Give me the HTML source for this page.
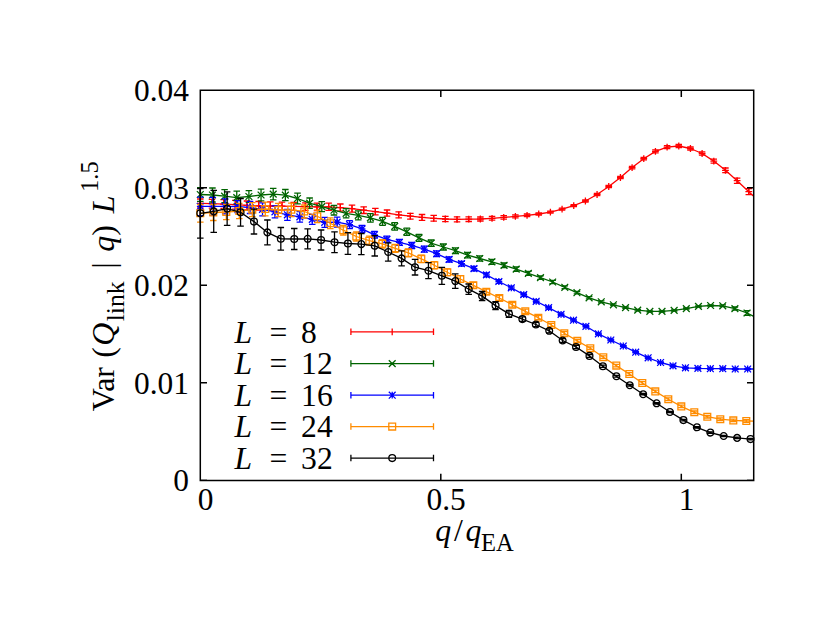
<!DOCTYPE html>
<html lang="en"><head><meta charset="utf-8"><title>Var(Q_link | q) L^1.5 versus q/q_EA</title>
<style>
html,body{margin:0;padding:0;background:#fff;}
body{width:830px;height:642px;overflow:hidden;font-family:"Liberation Serif",serif;}
svg{display:block}
.t text{font-family:"Liberation Serif",serif;fill:#000;}
</style></head>
<body>
<svg width="830" height="642" viewBox="0 0 830 642" role="img" aria-label="Plot of Var(Q_link | q) L^1.5 against q/q_EA for L = 8, 12, 16, 24, 32">
<rect width="830" height="642" fill="#fff"/>
<g class="plot">
<g stroke="#ff0000" fill="none" stroke-width="1.3"><path d="M200.3 203.4L211.97 203.7L223.64 204.1L235.31 204.7L246.98 205.4L258.65 205.8L270.32 206L281.99 206.2L293.66 206.4L305.33 206.6L317 206.8L328.67 206.8L340.34 207.6L352.01 208.7L363.68 210.2L375.35 211.6L387.02 213.1L398.69 214.8L410.36 216.2L422.03 217.4L433.7 218.3L445.37 219L457.04 219.3L468.71 219.2L480.38 219L492.05 218.3L503.72 217.4L515.39 216.4L527.06 215.3L538.73 214L550.4 212.2L562.07 209.2L573.74 205.7L585.41 201L597.08 194.5L608.75 186.5L620.42 177.5L632.09 167.6L643.76 158.7L655.43 151.4L667.1 147.2L678.77 146L690.44 148.5L702.11 153.5L713.78 161.1L725.45 170.3L737.12 180.7L748.79 191.7L753.7 196.3" stroke-linejoin="round"/><path d="M200.3 199V207.8M197.05 199H203.55M197.05 207.8H203.55M211.97 199.3V208.1M208.72 199.3H215.22M208.72 208.1H215.22M223.64 199.7V208.5M220.39 199.7H226.89M220.39 208.5H226.89M235.31 200.3V209.1M232.06 200.3H238.56M232.06 209.1H238.56M246.98 201V209.8M243.73 201H250.23M243.73 209.8H250.23M258.65 201.5V210.1M255.4 201.5H261.9M255.4 210.1H261.9M270.32 201.8V210.2M267.07 201.8H273.57M267.07 210.2H273.57M281.99 202.2V210.2M278.74 202.2H285.24M278.74 210.2H285.24M293.66 202.5V210.3M290.41 202.5H296.91M290.41 210.3H296.91M305.33 202.8V210.4M302.08 202.8H308.58M302.08 210.4H308.58M317 203.1V210.5M313.75 203.1H320.25M313.75 210.5H320.25M328.67 203.2V210.4M325.42 203.2H331.92M325.42 210.4H331.92M340.34 204V211.2M337.09 204H343.59M337.09 211.2H343.59M352.01 205.2V212.2M348.76 205.2H355.26M348.76 212.2H355.26M363.68 206.9V213.5M360.43 206.9H366.93M360.43 213.5H366.93M375.35 208.4V214.8M372.1 208.4H378.6M372.1 214.8H378.6M387.02 210V216.2M383.77 210H390.27M383.77 216.2H390.27M398.69 211.8V217.8M395.44 211.8H401.94M395.44 217.8H401.94M410.36 213.3V219.1M407.11 213.3H413.61M407.11 219.1H413.61M422.03 214.5V220.3M418.78 214.5H425.28M418.78 220.3H425.28M433.7 215.4V221.2M430.45 215.4H436.95M430.45 221.2H436.95M445.37 216.4V221.6M442.12 216.4H448.62M442.12 221.6H448.62M457.04 216.8V221.8M453.79 216.8H460.29M453.79 221.8H460.29M468.71 216.9V221.5M465.46 216.9H471.96M465.46 221.5H471.96M480.38 217V221M477.13 217H483.63M477.13 221H483.63M492.05 216.4V220.2M488.8 216.4H495.3M488.8 220.2H495.3M503.72 215.7V219.1M500.47 215.7H506.97M500.47 219.1H506.97M515.39 214.9V217.9M512.14 214.9H518.64M512.14 217.9H518.64M527.06 214V216.6M523.81 214H530.31M523.81 216.6H530.31M538.73 212.9V215.1M535.48 212.9H541.98M535.48 215.1H541.98M550.4 211.2V213.2M547.15 211.2H553.65M547.15 213.2H553.65M562.07 208.2V210.2M558.82 208.2H565.32M558.82 210.2H565.32M573.74 204.7V206.7M570.49 204.7H576.99M570.49 206.7H576.99M585.41 200V202M582.16 200H588.66M582.16 202H588.66M597.08 193.5V195.5M593.83 193.5H600.33M593.83 195.5H600.33M608.75 185.3V187.7M605.5 185.3H612M605.5 187.7H612M620.42 176.3V178.7M617.17 176.3H623.67M617.17 178.7H623.67M632.09 166.4V168.8M628.84 166.4H635.34M628.84 168.8H635.34M643.76 157.5V159.9M640.51 157.5H647.01M640.51 159.9H647.01M655.43 149.9V152.9M652.18 149.9H658.68M652.18 152.9H658.68M667.1 145.7V148.7M663.85 145.7H670.35M663.85 148.7H670.35M678.77 144.5V147.5M675.52 144.5H682.02M675.52 147.5H682.02M690.44 147V150M687.19 147H693.69M687.19 150H693.69M702.11 151.8V155.2M698.86 151.8H705.36M698.86 155.2H705.36M713.78 159.1V163.1M710.53 159.1H717.03M710.53 163.1H717.03M725.45 168V172.6M722.2 168H728.7M722.2 172.6H728.7M737.12 178.1V183.3M733.87 178.1H740.37M733.87 183.3H740.37M748.79 188.7V194.7M745.54 188.7H752.04M745.54 194.7H752.04"/><path d="M196.9 203.4H203.7M200.3 200V206.8M208.57 203.7H215.37M211.97 200.3V207.1M220.24 204.1H227.04M223.64 200.7V207.5M231.91 204.7H238.71M235.31 201.3V208.1M243.58 205.4H250.38M246.98 202V208.8M255.25 205.8H262.05M258.65 202.4V209.2M266.92 206H273.72M270.32 202.6V209.4M278.59 206.2H285.39M281.99 202.8V209.6M290.26 206.4H297.06M293.66 203V209.8M301.93 206.6H308.73M305.33 203.2V210M313.6 206.8H320.4M317 203.4V210.2M325.27 206.8H332.07M328.67 203.4V210.2M336.94 207.6H343.74M340.34 204.2V211M348.61 208.7H355.41M352.01 205.3V212.1M360.28 210.2H367.08M363.68 206.8V213.6M371.95 211.6H378.75M375.35 208.2V215M383.62 213.1H390.42M387.02 209.7V216.5M395.29 214.8H402.09M398.69 211.4V218.2M406.96 216.2H413.76M410.36 212.8V219.6M418.63 217.4H425.43M422.03 214V220.8M430.3 218.3H437.1M433.7 214.9V221.7M441.97 219H448.77M445.37 215.6V222.4M453.64 219.3H460.44M457.04 215.9V222.7M465.31 219.2H472.11M468.71 215.8V222.6M476.98 219H483.78M480.38 215.6V222.4M488.65 218.3H495.45M492.05 214.9V221.7M500.32 217.4H507.12M503.72 214V220.8M511.99 216.4H518.79M515.39 213V219.8M523.66 215.3H530.46M527.06 211.9V218.7M535.33 214H542.13M538.73 210.6V217.4M547 212.2H553.8M550.4 208.8V215.6M558.67 209.2H565.47M562.07 205.8V212.6M570.34 205.7H577.14M573.74 202.3V209.1M582.01 201H588.81M585.41 197.6V204.4M593.68 194.5H600.48M597.08 191.1V197.9M605.35 186.5H612.15M608.75 183.1V189.9M617.02 177.5H623.82M620.42 174.1V180.9M628.69 167.6H635.49M632.09 164.2V171M640.36 158.7H647.16M643.76 155.3V162.1M652.03 151.4H658.83M655.43 148V154.8M663.7 147.2H670.5M667.1 143.8V150.6M675.37 146H682.17M678.77 142.6V149.4M687.04 148.5H693.84M690.44 145.1V151.9M698.71 153.5H705.51M702.11 150.1V156.9M710.38 161.1H717.18M713.78 157.7V164.5M722.05 170.3H728.85M725.45 166.9V173.7M733.72 180.7H740.52M737.12 177.3V184.1M745.39 191.7H752.19M748.79 188.3V195.1"/></g>
<g stroke="#006400" fill="none" stroke-width="1.3"><path d="M200.3 194.5L212.45 195L224.6 196.2L236.75 197.6L248.9 196.5L261.05 195L273.2 194.1L285.35 195.1L297.5 198.5L309.65 203.2L321.8 206.6L333.95 210.2L346.1 213.3L358.25 215.4L370.4 217.9L382.55 221.3L394.7 226.4L406.85 231.8L419 237.9L431.15 243.2L443.3 247L455.45 250.7L467.6 255.1L479.75 258.5L491.9 261.8L504.05 265.3L516.2 269.1L528.35 273.4L540.5 277.6L552.65 282L564.8 287.3L576.95 292.7L589.1 297.8L601.25 301.8L613.4 304.8L625.55 307.6L637.7 310.1L649.85 311.4L662 311.4L674.15 310.4L686.3 308.6L698.45 306.4L710.6 305.5L722.75 305.8L734.9 308.6L747.05 313L753.7 316.4" stroke-linejoin="round"/><path d="M200.3 187.7V201.3M197.05 187.7H203.55M197.05 201.3H203.55M212.45 188V202M209.2 188H215.7M209.2 202H215.7M224.6 189.7V202.7M221.35 189.7H227.85M221.35 202.7H227.85M236.75 191.2V204M233.5 191.2H240M233.5 204H240M248.9 190.6V202.4M245.65 190.6H252.15M245.65 202.4H252.15M261.05 189.1V200.9M257.8 189.1H264.3M257.8 200.9H264.3M273.2 188.3V199.9M269.95 188.3H276.45M269.95 199.9H276.45M285.35 189.5V200.7M282.1 189.5H288.6M282.1 200.7H288.6M297.5 193.2V203.8M294.25 193.2H300.75M294.25 203.8H300.75M309.65 198V208.4M306.4 198H312.9M306.4 208.4H312.9M321.8 201.6V211.6M318.55 201.6H325.05M318.55 211.6H325.05M333.95 205.4V215M330.7 205.4H337.2M330.7 215H337.2M346.1 208.7V217.9M342.85 208.7H349.35M342.85 217.9H349.35M358.25 210.9V219.9M355 210.9H361.5M355 219.9H361.5M370.4 213.7V222.1M367.15 213.7H373.65M367.15 222.1H373.65M382.55 217.3V225.3M379.3 217.3H385.8M379.3 225.3H385.8M394.7 222.7V230.1M391.45 222.7H397.95M391.45 230.1H397.95M406.85 228.2V235.4M403.6 228.2H410.1M403.6 235.4H410.1M419 234.5V241.3M415.75 234.5H422.25M415.75 241.3H422.25M431.15 240V246.4M427.9 240H434.4M427.9 246.4H434.4M443.3 244V250M440.05 244H446.55M440.05 250H446.55M455.45 247.9V253.5M452.2 247.9H458.7M452.2 253.5H458.7M467.6 252.4V257.8M464.35 252.4H470.85M464.35 257.8H470.85M479.75 255.9V261.1M476.5 255.9H483M476.5 261.1H483M491.9 259.3V264.3M488.65 259.3H495.15M488.65 264.3H495.15M504.05 263V267.6M500.8 263H507.3M500.8 267.6H507.3M516.2 266.9V271.3M512.95 266.9H519.45M512.95 271.3H519.45M528.35 271.4V275.4M525.1 271.4H531.6M525.1 275.4H531.6M540.5 275.8V279.4M537.25 275.8H543.75M537.25 279.4H543.75M552.65 280.4V283.6M549.4 280.4H555.9M549.4 283.6H555.9M564.8 285.9V288.7M561.55 285.9H568.05M561.55 288.7H568.05M576.95 291.5V293.9M573.7 291.5H580.2M573.7 293.9H580.2M589.1 296.7V298.9M585.85 296.7H592.35M585.85 298.9H592.35M601.25 300.8V302.8M598 300.8H604.5M598 302.8H604.5M613.4 303.9V305.7M610.15 303.9H616.65M610.15 305.7H616.65M625.55 306.8V308.4M622.3 306.8H628.8M622.3 308.4H628.8M637.7 309.4V310.8M634.45 309.4H640.95M634.45 310.8H640.95M649.85 310.8V312M646.6 310.8H653.1M646.6 312H653.1M662 310.8V312M658.75 310.8H665.25M658.75 312H665.25M674.15 309.8V311M670.9 309.8H677.4M670.9 311H677.4M686.3 308V309.2M683.05 308H689.55M683.05 309.2H689.55M698.45 305.8V307M695.2 305.8H701.7M695.2 307H701.7M710.6 304.8V306.2M707.35 304.8H713.85M707.35 306.2H713.85M722.75 304.9V306.7M719.5 304.9H726M719.5 306.7H726M734.9 307V310.2M731.65 307H738.15M731.65 310.2H738.15M747.05 310.6V315.4M743.8 310.6H750.3M743.8 315.4H750.3"/><path d="M196.9 191.1L203.7 197.9M196.9 197.9L203.7 191.1M209.05 191.6L215.85 198.4M209.05 198.4L215.85 191.6M221.2 192.8L228 199.6M221.2 199.6L228 192.8M233.35 194.2L240.15 201M233.35 201L240.15 194.2M245.5 193.1L252.3 199.9M245.5 199.9L252.3 193.1M257.65 191.6L264.45 198.4M257.65 198.4L264.45 191.6M269.8 190.7L276.6 197.5M269.8 197.5L276.6 190.7M281.95 191.7L288.75 198.5M281.95 198.5L288.75 191.7M294.1 195.1L300.9 201.9M294.1 201.9L300.9 195.1M306.25 199.8L313.05 206.6M306.25 206.6L313.05 199.8M318.4 203.2L325.2 210M318.4 210L325.2 203.2M330.55 206.8L337.35 213.6M330.55 213.6L337.35 206.8M342.7 209.9L349.5 216.7M342.7 216.7L349.5 209.9M354.85 212L361.65 218.8M354.85 218.8L361.65 212M367 214.5L373.8 221.3M367 221.3L373.8 214.5M379.15 217.9L385.95 224.7M379.15 224.7L385.95 217.9M391.3 223L398.1 229.8M391.3 229.8L398.1 223M403.45 228.4L410.25 235.2M403.45 235.2L410.25 228.4M415.6 234.5L422.4 241.3M415.6 241.3L422.4 234.5M427.75 239.8L434.55 246.6M427.75 246.6L434.55 239.8M439.9 243.6L446.7 250.4M439.9 250.4L446.7 243.6M452.05 247.3L458.85 254.1M452.05 254.1L458.85 247.3M464.2 251.7L471 258.5M464.2 258.5L471 251.7M476.35 255.1L483.15 261.9M476.35 261.9L483.15 255.1M488.5 258.4L495.3 265.2M488.5 265.2L495.3 258.4M500.65 261.9L507.45 268.7M500.65 268.7L507.45 261.9M512.8 265.7L519.6 272.5M512.8 272.5L519.6 265.7M524.95 270L531.75 276.8M524.95 276.8L531.75 270M537.1 274.2L543.9 281M537.1 281L543.9 274.2M549.25 278.6L556.05 285.4M549.25 285.4L556.05 278.6M561.4 283.9L568.2 290.7M561.4 290.7L568.2 283.9M573.55 289.3L580.35 296.1M573.55 296.1L580.35 289.3M585.7 294.4L592.5 301.2M585.7 301.2L592.5 294.4M597.85 298.4L604.65 305.2M597.85 305.2L604.65 298.4M610 301.4L616.8 308.2M610 308.2L616.8 301.4M622.15 304.2L628.95 311M622.15 311L628.95 304.2M634.3 306.7L641.1 313.5M634.3 313.5L641.1 306.7M646.45 308L653.25 314.8M646.45 314.8L653.25 308M658.6 308L665.4 314.8M658.6 314.8L665.4 308M670.75 307L677.55 313.8M670.75 313.8L677.55 307M682.9 305.2L689.7 312M682.9 312L689.7 305.2M695.05 303L701.85 309.8M695.05 309.8L701.85 303M707.2 302.1L714 308.9M707.2 308.9L714 302.1M719.35 302.4L726.15 309.2M719.35 309.2L726.15 302.4M731.5 305.2L738.3 312M731.5 312L738.3 305.2M743.65 309.6L750.45 316.4M743.65 316.4L750.45 309.6"/></g>
<g stroke="#0000ff" fill="none" stroke-width="1.3"><path d="M200.3 206.4L212.74 206.4L225.18 206.4L237.62 206.6L250.06 207.5L262.5 209.3L274.94 211.8L287.38 214.8L299.82 216.9L312.26 219.4L324.7 222.3L337.14 222.2L349.58 224.7L362.02 228.9L374.46 234.8L386.9 239.4L399.34 242.4L411.78 245.4L424.22 249.2L436.66 253.7L449.1 259.4L461.54 263.7L473.98 268.6L486.42 274.9L498.86 281.5L511.3 287.8L523.74 294.6L536.18 301.3L548.62 307.7L561.06 314.3L573.5 320.2L585.94 326.3L598.38 333.8L610.82 340L623.26 346L635.7 352.2L648.14 357.8L660.58 362.5L673.02 365.9L685.46 367.8L697.9 368.4L710.34 368.7L722.78 368.7L735.22 369L747.66 369L753.7 369" stroke-linejoin="round"/><path d="M200.3 197.1V215.7M197.05 197.1H203.55M197.05 215.7H203.55M212.74 197.4V215.4M209.49 197.4H215.99M209.49 215.4H215.99M225.18 198.9V213.9M221.93 198.9H228.43M221.93 213.9H228.43M237.62 200.6V212.6M234.37 200.6H240.87M234.37 212.6H240.87M250.06 201.5V213.5M246.81 201.5H253.31M246.81 213.5H253.31M262.5 202.8V215.8M259.25 202.8H265.75M259.25 215.8H265.75M274.94 205.8V217.8M271.69 205.8H278.19M271.69 217.8H278.19M287.38 209.3V220.3M284.13 209.3H290.63M284.13 220.3H290.63M299.82 211.7V222.1M296.57 211.7H303.07M296.57 222.1H303.07M312.26 214.4V224.4M309.01 214.4H315.51M309.01 224.4H315.51M324.7 217.3V227.3M321.45 217.3H327.95M321.45 227.3H327.95M337.14 217.2V227.2M333.89 217.2H340.39M333.89 227.2H340.39M349.58 220.7V228.7M346.33 220.7H352.83M346.33 228.7H352.83M362.02 225.3V232.5M358.77 225.3H365.27M358.77 232.5H365.27M374.46 231.5V238.1M371.21 231.5H377.71M371.21 238.1H377.71M386.9 236.1V242.7M383.65 236.1H390.15M383.65 242.7H390.15M399.34 239.4V245.4M396.09 239.4H402.59M396.09 245.4H402.59M411.78 242.3V248.5M408.53 242.3H415.03M408.53 248.5H415.03M424.22 246.2V252.2M420.97 246.2H427.47M420.97 252.2H427.47M436.66 250.9V256.5M433.41 250.9H439.91M433.41 256.5H439.91M449.1 256.8V262M445.85 256.8H452.35M445.85 262H452.35M461.54 261.3V266.1M458.29 261.3H464.79M458.29 266.1H464.79M473.98 266.4V270.8M470.73 266.4H477.23M470.73 270.8H477.23M486.42 272.9V276.9M483.17 272.9H489.67M483.17 276.9H489.67M498.86 279.7V283.3M495.61 279.7H502.11M495.61 283.3H502.11M511.3 286.2V289.4M508.05 286.2H514.55M508.05 289.4H514.55M523.74 293.1V296.1M520.49 293.1H526.99M520.49 296.1H526.99M536.18 299.9V302.7M532.93 299.9H539.43M532.93 302.7H539.43M548.62 306.4V309M545.37 306.4H551.87M545.37 309H551.87M561.06 313.1V315.5M557.81 313.1H564.31M557.81 315.5H564.31M573.5 319.2V321.2M570.25 319.2H576.75M570.25 321.2H576.75M585.94 325.4V327.2M582.69 325.4H589.19M582.69 327.2H589.19M598.38 333V334.6M595.13 333H601.63M595.13 334.6H601.63M610.82 339.2V340.8M607.57 339.2H614.07M607.57 340.8H614.07M623.26 345.3V346.7M620.01 345.3H626.51M620.01 346.7H626.51M635.7 351.5V352.9M632.45 351.5H638.95M632.45 352.9H638.95M648.14 357.1V358.5M644.89 357.1H651.39M644.89 358.5H651.39M660.58 361.8V363.2M657.33 361.8H663.83M657.33 363.2H663.83M673.02 365.2V366.6M669.77 365.2H676.27M669.77 366.6H676.27M685.46 367.1V368.5M682.21 367.1H688.71M682.21 368.5H688.71M697.9 367.7V369.1M694.65 367.7H701.15M694.65 369.1H701.15M710.34 368V369.4M707.09 368H713.59M707.09 369.4H713.59M722.78 368V369.4M719.53 368H726.03M719.53 369.4H726.03M735.22 368.3V369.7M731.97 368.3H738.47M731.97 369.7H738.47M747.66 368.3V369.7M744.41 368.3H750.91M744.41 369.7H750.91"/><path d="M196.9 206.4H203.7M200.3 203V209.8M196.9 203L203.7 209.8M196.9 209.8L203.7 203M209.34 206.4H216.14M212.74 203V209.8M209.34 203L216.14 209.8M209.34 209.8L216.14 203M221.78 206.4H228.58M225.18 203V209.8M221.78 203L228.58 209.8M221.78 209.8L228.58 203M234.22 206.6H241.02M237.62 203.2V210M234.22 203.2L241.02 210M234.22 210L241.02 203.2M246.66 207.5H253.46M250.06 204.1V210.9M246.66 204.1L253.46 210.9M246.66 210.9L253.46 204.1M259.1 209.3H265.9M262.5 205.9V212.7M259.1 205.9L265.9 212.7M259.1 212.7L265.9 205.9M271.54 211.8H278.34M274.94 208.4V215.2M271.54 208.4L278.34 215.2M271.54 215.2L278.34 208.4M283.98 214.8H290.78M287.38 211.4V218.2M283.98 211.4L290.78 218.2M283.98 218.2L290.78 211.4M296.42 216.9H303.22M299.82 213.5V220.3M296.42 213.5L303.22 220.3M296.42 220.3L303.22 213.5M308.86 219.4H315.66M312.26 216V222.8M308.86 216L315.66 222.8M308.86 222.8L315.66 216M321.3 222.3H328.1M324.7 218.9V225.7M321.3 218.9L328.1 225.7M321.3 225.7L328.1 218.9M333.74 222.2H340.54M337.14 218.8V225.6M333.74 218.8L340.54 225.6M333.74 225.6L340.54 218.8M346.18 224.7H352.98M349.58 221.3V228.1M346.18 221.3L352.98 228.1M346.18 228.1L352.98 221.3M358.62 228.9H365.42M362.02 225.5V232.3M358.62 225.5L365.42 232.3M358.62 232.3L365.42 225.5M371.06 234.8H377.86M374.46 231.4V238.2M371.06 231.4L377.86 238.2M371.06 238.2L377.86 231.4M383.5 239.4H390.3M386.9 236V242.8M383.5 236L390.3 242.8M383.5 242.8L390.3 236M395.94 242.4H402.74M399.34 239V245.8M395.94 239L402.74 245.8M395.94 245.8L402.74 239M408.38 245.4H415.18M411.78 242V248.8M408.38 242L415.18 248.8M408.38 248.8L415.18 242M420.82 249.2H427.62M424.22 245.8V252.6M420.82 245.8L427.62 252.6M420.82 252.6L427.62 245.8M433.26 253.7H440.06M436.66 250.3V257.1M433.26 250.3L440.06 257.1M433.26 257.1L440.06 250.3M445.7 259.4H452.5M449.1 256V262.8M445.7 256L452.5 262.8M445.7 262.8L452.5 256M458.14 263.7H464.94M461.54 260.3V267.1M458.14 260.3L464.94 267.1M458.14 267.1L464.94 260.3M470.58 268.6H477.38M473.98 265.2V272M470.58 265.2L477.38 272M470.58 272L477.38 265.2M483.02 274.9H489.82M486.42 271.5V278.3M483.02 271.5L489.82 278.3M483.02 278.3L489.82 271.5M495.46 281.5H502.26M498.86 278.1V284.9M495.46 278.1L502.26 284.9M495.46 284.9L502.26 278.1M507.9 287.8H514.7M511.3 284.4V291.2M507.9 284.4L514.7 291.2M507.9 291.2L514.7 284.4M520.34 294.6H527.14M523.74 291.2V298M520.34 291.2L527.14 298M520.34 298L527.14 291.2M532.78 301.3H539.58M536.18 297.9V304.7M532.78 297.9L539.58 304.7M532.78 304.7L539.58 297.9M545.22 307.7H552.02M548.62 304.3V311.1M545.22 304.3L552.02 311.1M545.22 311.1L552.02 304.3M557.66 314.3H564.46M561.06 310.9V317.7M557.66 310.9L564.46 317.7M557.66 317.7L564.46 310.9M570.1 320.2H576.9M573.5 316.8V323.6M570.1 316.8L576.9 323.6M570.1 323.6L576.9 316.8M582.54 326.3H589.34M585.94 322.9V329.7M582.54 322.9L589.34 329.7M582.54 329.7L589.34 322.9M594.98 333.8H601.78M598.38 330.4V337.2M594.98 330.4L601.78 337.2M594.98 337.2L601.78 330.4M607.42 340H614.22M610.82 336.6V343.4M607.42 336.6L614.22 343.4M607.42 343.4L614.22 336.6M619.86 346H626.66M623.26 342.6V349.4M619.86 342.6L626.66 349.4M619.86 349.4L626.66 342.6M632.3 352.2H639.1M635.7 348.8V355.6M632.3 348.8L639.1 355.6M632.3 355.6L639.1 348.8M644.74 357.8H651.54M648.14 354.4V361.2M644.74 354.4L651.54 361.2M644.74 361.2L651.54 354.4M657.18 362.5H663.98M660.58 359.1V365.9M657.18 359.1L663.98 365.9M657.18 365.9L663.98 359.1M669.62 365.9H676.42M673.02 362.5V369.3M669.62 362.5L676.42 369.3M669.62 369.3L676.42 362.5M682.06 367.8H688.86M685.46 364.4V371.2M682.06 364.4L688.86 371.2M682.06 371.2L688.86 364.4M694.5 368.4H701.3M697.9 365V371.8M694.5 365L701.3 371.8M694.5 371.8L701.3 365M706.94 368.7H713.74M710.34 365.3V372.1M706.94 365.3L713.74 372.1M706.94 372.1L713.74 365.3M719.38 368.7H726.18M722.78 365.3V372.1M719.38 365.3L726.18 372.1M719.38 372.1L726.18 365.3M731.82 369H738.62M735.22 365.6V372.4M731.82 365.6L738.62 372.4M731.82 372.4L738.62 365.6M744.26 369H751.06M747.66 365.6V372.4M744.26 365.6L751.06 372.4M744.26 372.4L751.06 365.6"/></g>
<g stroke="#ff8c00" fill="none" stroke-width="1.3"><path d="M200.3 213.3L213.3 212.5L226.3 212L239.3 211L252.3 209.6L265.3 209L278.3 210L291.3 209.8L304.3 211.5L317.3 216.3L330.3 223.3L343.3 230.2L356.3 236.5L369.3 240.7L382.3 243.8L395.3 248.3L408.3 252.9L421.3 258.9L434.3 265.2L447.3 272.2L460.3 279L473.3 285.3L486.3 291.7L499.3 298L512.3 304.8L525.3 311.3L538.3 317.7L551.3 325L564.3 333.2L577.3 340.9L590.3 348.2L603.3 357.2L616.3 365.6L629.3 374L642.3 383L655.3 391.4L668.3 399.2L681.3 406.4L694.3 412.3L707.3 416.7L720.3 419.2L733.3 420.4L746.3 421L753.7 421.2" stroke-linejoin="round"/><path d="M200.3 204.5V222.1M197.05 204.5H203.55M197.05 222.1H203.55M213.3 204.5V220.5M210.05 204.5H216.55M210.05 220.5H216.55M226.3 204.4V219.6M223.05 204.4H229.55M223.05 219.6H229.55M239.3 203.4V218.6M236.05 203.4H242.55M236.05 218.6H242.55M252.3 202.6V216.6M249.05 202.6H255.55M249.05 216.6H255.55M265.3 202.2V215.8M262.05 202.2H268.55M262.05 215.8H268.55M278.3 203.3V216.7M275.05 203.3H281.55M275.05 216.7H281.55M291.3 203.1V216.5M288.05 203.1H294.55M288.05 216.5H294.55M304.3 205V218M301.05 205H307.55M301.05 218H307.55M317.3 210.1V222.5M314.05 210.1H320.55M314.05 222.5H320.55M330.3 217.9V228.7M327.05 217.9H333.55M327.05 228.7H333.55M343.3 225.4V235M340.05 225.4H346.55M340.05 235H346.55M356.3 232V241M353.05 232H359.55M353.05 241H359.55M369.3 236.2V245.2M366.05 236.2H372.55M366.05 245.2H372.55M382.3 239.6V248M379.05 239.6H385.55M379.05 248H385.55M395.3 244.3V252.3M392.05 244.3H398.55M392.05 252.3H398.55M408.3 248.9V256.9M405.05 248.9H411.55M405.05 256.9H411.55M421.3 255.1V262.7M418.05 255.1H424.55M418.05 262.7H424.55M434.3 261.6V268.8M431.05 261.6H437.55M431.05 268.8H437.55M447.3 268.8V275.6M444.05 268.8H450.55M444.05 275.6H450.55M460.3 275.6V282.4M457.05 275.6H463.55M457.05 282.4H463.55M473.3 282.4V288.2M470.05 282.4H476.55M470.05 288.2H476.55M486.3 289V294.4M483.05 289H489.55M483.05 294.4H489.55M499.3 295.5V300.5M496.05 295.5H502.55M496.05 300.5H502.55M512.3 302.5V307.1M509.05 302.5H515.55M509.05 307.1H515.55M525.3 309.1V313.5M522.05 309.1H528.55M522.05 313.5H528.55M538.3 315.7V319.7M535.05 315.7H541.55M535.05 319.7H541.55M551.3 323.3V326.7M548.05 323.3H554.55M548.05 326.7H554.55M564.3 331.5V334.9M561.05 331.5H567.55M561.05 334.9H567.55M577.3 339.5V342.3M574.05 339.5H580.55M574.05 342.3H580.55M590.3 346.9V349.5M587.05 346.9H593.55M587.05 349.5H593.55M603.3 355.9V358.5M600.05 355.9H606.55M600.05 358.5H606.55M616.3 364.3V366.9M613.05 364.3H619.55M613.05 366.9H619.55M629.3 372.7V375.3M626.05 372.7H632.55M626.05 375.3H632.55M642.3 381.7V384.3M639.05 381.7H645.55M639.05 384.3H645.55M655.3 390.1V392.7M652.05 390.1H658.55M652.05 392.7H658.55M668.3 397.9V400.5M665.05 397.9H671.55M665.05 400.5H671.55M681.3 405.1V407.7M678.05 405.1H684.55M678.05 407.7H684.55M694.3 411V413.6M691.05 411H697.55M691.05 413.6H697.55M707.3 415.4V418M704.05 415.4H710.55M704.05 418H710.55M720.3 417.9V420.5M717.05 417.9H723.55M717.05 420.5H723.55M733.3 419.1V421.7M730.05 419.1H736.55M730.05 421.7H736.55M746.3 419.7V422.3M743.05 419.7H749.55M743.05 422.3H749.55"/><path d="M196.9 209.9H203.7V216.7H196.9ZM209.9 209.1H216.7V215.9H209.9ZM222.9 208.6H229.7V215.4H222.9ZM235.9 207.6H242.7V214.4H235.9ZM248.9 206.2H255.7V213H248.9ZM261.9 205.6H268.7V212.4H261.9ZM274.9 206.6H281.7V213.4H274.9ZM287.9 206.4H294.7V213.2H287.9ZM300.9 208.1H307.7V214.9H300.9ZM313.9 212.9H320.7V219.7H313.9ZM326.9 219.9H333.7V226.7H326.9ZM339.9 226.8H346.7V233.6H339.9ZM352.9 233.1H359.7V239.9H352.9ZM365.9 237.3H372.7V244.1H365.9ZM378.9 240.4H385.7V247.2H378.9ZM391.9 244.9H398.7V251.7H391.9ZM404.9 249.5H411.7V256.3H404.9ZM417.9 255.5H424.7V262.3H417.9ZM430.9 261.8H437.7V268.6H430.9ZM443.9 268.8H450.7V275.6H443.9ZM456.9 275.6H463.7V282.4H456.9ZM469.9 281.9H476.7V288.7H469.9ZM482.9 288.3H489.7V295.1H482.9ZM495.9 294.6H502.7V301.4H495.9ZM508.9 301.4H515.7V308.2H508.9ZM521.9 307.9H528.7V314.7H521.9ZM534.9 314.3H541.7V321.1H534.9ZM547.9 321.6H554.7V328.4H547.9ZM560.9 329.8H567.7V336.6H560.9ZM573.9 337.5H580.7V344.3H573.9ZM586.9 344.8H593.7V351.6H586.9ZM599.9 353.8H606.7V360.6H599.9ZM612.9 362.2H619.7V369H612.9ZM625.9 370.6H632.7V377.4H625.9ZM638.9 379.6H645.7V386.4H638.9ZM651.9 388H658.7V394.8H651.9ZM664.9 395.8H671.7V402.6H664.9ZM677.9 403H684.7V409.8H677.9ZM690.9 408.9H697.7V415.7H690.9ZM703.9 413.3H710.7V420.1H703.9ZM716.9 415.8H723.7V422.6H716.9ZM729.9 417H736.7V423.8H729.9ZM742.9 417.6H749.7V424.4H742.9Z"/></g>
<g stroke="#000000" fill="none" stroke-width="1.3"><path d="M200.3 213.3L213.72 211.4L227.14 208.6L240.56 212.3L253.98 221.6L267.4 232.4L280.82 238.8L294.24 239L307.66 238.8L321.08 240L334.5 242.2L347.92 243.5L361.34 244.1L374.76 245.8L388.18 252L401.6 258.4L415.02 267.2L428.44 270.7L441.86 275.8L455.28 281.1L468.7 289.2L482.12 296.1L495.54 305.6L508.96 313.9L522.38 319.1L535.8 324.5L549.22 330.8L562.64 340.5L576.06 347L589.48 355.9L602.9 366.2L616.32 376.2L629.74 385.2L643.16 394.2L656.58 403.3L670 412L683.42 420.1L696.84 427.3L710.26 432.6L723.68 436L737.1 437.9L750.52 439.1L753.7 439.2" stroke-linejoin="round"/><path d="M200.3 188.5V238.1M197.05 188.5H203.55M197.05 238.1H203.55M213.72 190.4V232.4M210.47 190.4H216.97M210.47 232.4H216.97M227.14 191.9V225.3M223.89 191.9H230.39M223.89 225.3H230.39M240.56 198.5V226.1M237.31 198.5H243.81M237.31 226.1H243.81M253.98 209.2V234M250.73 209.2H257.23M250.73 234H257.23M267.4 220V244.8M264.15 220H270.65M264.15 244.8H270.65M280.82 227.5V250.1M277.57 227.5H284.07M277.57 250.1H284.07M294.24 228.5V249.5M290.99 228.5H297.49M290.99 249.5H297.49M307.66 228.8V248.8M304.41 228.8H310.91M304.41 248.8H310.91M321.08 230V250M317.83 230H324.33M317.83 250H324.33M334.5 231.8V252.6M331.25 231.8H337.75M331.25 252.6H337.75M347.92 232.7V254.3M344.67 232.7H351.17M344.67 254.3H351.17M361.34 233.5V254.7M358.09 233.5H364.59M358.09 254.7H364.59M374.76 235.6V256M371.51 235.6H378.01M371.51 256H378.01M388.18 242.8V261.2M384.93 242.8H391.43M384.93 261.2H391.43M401.6 250.9V265.9M398.35 250.9H404.85M398.35 265.9H404.85M415.02 259.4V275M411.77 259.4H418.27M411.77 275H418.27M428.44 262.7V278.7M425.19 262.7H431.69M425.19 278.7H431.69M441.86 267.3V284.3M438.61 267.3H445.11M438.61 284.3H445.11M455.28 273.9V288.3M452.03 273.9H458.53M452.03 288.3H458.53M468.7 284V294.4M465.45 284H471.95M465.45 294.4H471.95M482.12 291.5V300.7M478.87 291.5H485.37M478.87 300.7H485.37M495.54 301.6V309.6M492.29 301.6H498.79M492.29 309.6H498.79M508.96 310.4V317.4M505.71 310.4H512.21M505.71 317.4H512.21M522.38 316.9V321.3M519.13 316.9H525.63M519.13 321.3H525.63M535.8 322.3V326.7M532.55 322.3H539.05M532.55 326.7H539.05M549.22 328.8V332.8M545.97 328.8H552.47M545.97 332.8H552.47M562.64 338.5V342.5M559.39 338.5H565.89M559.39 342.5H565.89M576.06 345.3V348.7M572.81 345.3H579.31M572.81 348.7H579.31M589.48 354.5V357.3M586.23 354.5H592.73M586.23 357.3H592.73M602.9 365.1V367.3M599.65 365.1H606.15M599.65 367.3H606.15M616.32 375.35V377.05M613.07 375.35H619.57M613.07 377.05H619.57M629.74 384.4V386M626.49 384.4H632.99M626.49 386H632.99M643.16 393.5V394.9M639.91 393.5H646.41M639.91 394.9H646.41M656.58 402.6V404M653.33 402.6H659.83M653.33 404H659.83M670 411.3V412.7M666.75 411.3H673.25M666.75 412.7H673.25M683.42 419.4V420.8M680.17 419.4H686.67M680.17 420.8H686.67M696.84 426.6V428M693.59 426.6H700.09M693.59 428H700.09M710.26 431.9V433.3M707.01 431.9H713.51M707.01 433.3H713.51M723.68 435.3V436.7M720.43 435.3H726.93M720.43 436.7H726.93M737.1 437.2V438.6M733.85 437.2H740.35M733.85 438.6H740.35M750.52 438.4V439.8M747.27 438.4H753.77M747.27 439.8H753.77"/><path d="M196.9 213.3A3.4 3.4 0 1 0 203.7 213.3A3.4 3.4 0 1 0 196.9 213.3ZM210.32 211.4A3.4 3.4 0 1 0 217.12 211.4A3.4 3.4 0 1 0 210.32 211.4ZM223.74 208.6A3.4 3.4 0 1 0 230.54 208.6A3.4 3.4 0 1 0 223.74 208.6ZM237.16 212.3A3.4 3.4 0 1 0 243.96 212.3A3.4 3.4 0 1 0 237.16 212.3ZM250.58 221.6A3.4 3.4 0 1 0 257.38 221.6A3.4 3.4 0 1 0 250.58 221.6ZM264 232.4A3.4 3.4 0 1 0 270.8 232.4A3.4 3.4 0 1 0 264 232.4ZM277.42 238.8A3.4 3.4 0 1 0 284.22 238.8A3.4 3.4 0 1 0 277.42 238.8ZM290.84 239A3.4 3.4 0 1 0 297.64 239A3.4 3.4 0 1 0 290.84 239ZM304.26 238.8A3.4 3.4 0 1 0 311.06 238.8A3.4 3.4 0 1 0 304.26 238.8ZM317.68 240A3.4 3.4 0 1 0 324.48 240A3.4 3.4 0 1 0 317.68 240ZM331.1 242.2A3.4 3.4 0 1 0 337.9 242.2A3.4 3.4 0 1 0 331.1 242.2ZM344.52 243.5A3.4 3.4 0 1 0 351.32 243.5A3.4 3.4 0 1 0 344.52 243.5ZM357.94 244.1A3.4 3.4 0 1 0 364.74 244.1A3.4 3.4 0 1 0 357.94 244.1ZM371.36 245.8A3.4 3.4 0 1 0 378.16 245.8A3.4 3.4 0 1 0 371.36 245.8ZM384.78 252A3.4 3.4 0 1 0 391.58 252A3.4 3.4 0 1 0 384.78 252ZM398.2 258.4A3.4 3.4 0 1 0 405 258.4A3.4 3.4 0 1 0 398.2 258.4ZM411.62 267.2A3.4 3.4 0 1 0 418.42 267.2A3.4 3.4 0 1 0 411.62 267.2ZM425.04 270.7A3.4 3.4 0 1 0 431.84 270.7A3.4 3.4 0 1 0 425.04 270.7ZM438.46 275.8A3.4 3.4 0 1 0 445.26 275.8A3.4 3.4 0 1 0 438.46 275.8ZM451.88 281.1A3.4 3.4 0 1 0 458.68 281.1A3.4 3.4 0 1 0 451.88 281.1ZM465.3 289.2A3.4 3.4 0 1 0 472.1 289.2A3.4 3.4 0 1 0 465.3 289.2ZM478.72 296.1A3.4 3.4 0 1 0 485.52 296.1A3.4 3.4 0 1 0 478.72 296.1ZM492.14 305.6A3.4 3.4 0 1 0 498.94 305.6A3.4 3.4 0 1 0 492.14 305.6ZM505.56 313.9A3.4 3.4 0 1 0 512.36 313.9A3.4 3.4 0 1 0 505.56 313.9ZM518.98 319.1A3.4 3.4 0 1 0 525.78 319.1A3.4 3.4 0 1 0 518.98 319.1ZM532.4 324.5A3.4 3.4 0 1 0 539.2 324.5A3.4 3.4 0 1 0 532.4 324.5ZM545.82 330.8A3.4 3.4 0 1 0 552.62 330.8A3.4 3.4 0 1 0 545.82 330.8ZM559.24 340.5A3.4 3.4 0 1 0 566.04 340.5A3.4 3.4 0 1 0 559.24 340.5ZM572.66 347A3.4 3.4 0 1 0 579.46 347A3.4 3.4 0 1 0 572.66 347ZM586.08 355.9A3.4 3.4 0 1 0 592.88 355.9A3.4 3.4 0 1 0 586.08 355.9ZM599.5 366.2A3.4 3.4 0 1 0 606.3 366.2A3.4 3.4 0 1 0 599.5 366.2ZM612.92 376.2A3.4 3.4 0 1 0 619.72 376.2A3.4 3.4 0 1 0 612.92 376.2ZM626.34 385.2A3.4 3.4 0 1 0 633.14 385.2A3.4 3.4 0 1 0 626.34 385.2ZM639.76 394.2A3.4 3.4 0 1 0 646.56 394.2A3.4 3.4 0 1 0 639.76 394.2ZM653.18 403.3A3.4 3.4 0 1 0 659.98 403.3A3.4 3.4 0 1 0 653.18 403.3ZM666.6 412A3.4 3.4 0 1 0 673.4 412A3.4 3.4 0 1 0 666.6 412ZM680.02 420.1A3.4 3.4 0 1 0 686.82 420.1A3.4 3.4 0 1 0 680.02 420.1ZM693.44 427.3A3.4 3.4 0 1 0 700.24 427.3A3.4 3.4 0 1 0 693.44 427.3ZM706.86 432.6A3.4 3.4 0 1 0 713.66 432.6A3.4 3.4 0 1 0 706.86 432.6ZM720.28 436A3.4 3.4 0 1 0 727.08 436A3.4 3.4 0 1 0 720.28 436ZM733.7 437.9A3.4 3.4 0 1 0 740.5 437.9A3.4 3.4 0 1 0 733.7 437.9ZM747.12 439.1A3.4 3.4 0 1 0 753.92 439.1A3.4 3.4 0 1 0 747.12 439.1Z"/></g>
</g>
<g class="legend">
<path d="M350.9 331.8H433.5M350.9 328.55V335.05M433.5 328.55V335.05M388.8 331.8H395.6M392.2 328.4V335.2" stroke="#ff0000" fill="none" stroke-width="1.3"/>
<path d="M350.9 363.6H433.5M350.9 360.35V366.85M433.5 360.35V366.85M388.8 360.2L395.6 367M388.8 367L395.6 360.2" stroke="#006400" fill="none" stroke-width="1.3"/>
<path d="M350.9 395.2H433.5M350.9 391.95V398.45M433.5 391.95V398.45M388.8 395.2H395.6M392.2 391.8V398.6M388.8 391.8L395.6 398.6M388.8 398.6L395.6 391.8" stroke="#0000ff" fill="none" stroke-width="1.3"/>
<path d="M350.9 426.6H433.5M350.9 423.35V429.85M433.5 423.35V429.85M388.8 423.2H395.6V430H388.8Z" stroke="#ff8c00" fill="none" stroke-width="1.3"/>
<path d="M350.9 458.1H433.5M350.9 454.85V461.35M433.5 454.85V461.35M388.8 458.1A3.4 3.4 0 1 0 395.6 458.1A3.4 3.4 0 1 0 388.8 458.1Z" stroke="#000000" fill="none" stroke-width="1.3"/>
</g>
<path d="M200.3 90.2H753.7V480.5H200.3ZM200.3 480.5v-6.7M200.3 90.2v6.7M440.8 480.5v-6.7M440.8 90.2v6.7M681.3 480.5v-6.7M681.3 90.2v6.7M200.3 480.3h6.7M753.7 480.3h-6.7M200.3 382.8h6.7M753.7 382.8h-6.7M200.3 285.3h6.7M753.7 285.3h-6.7M200.3 187.8h6.7M753.7 187.8h-6.7M200.3 90.2h6.7M753.7 90.2h-6.7" stroke="#000" fill="none" stroke-width="1.5" stroke-linejoin="miter"/>
<g class="t">
<text x="189" y="491" text-anchor="end" font-size="31.4">0</text>
<text x="189" y="393.5" text-anchor="end" font-size="31.4">0.01</text>
<text x="189" y="296" text-anchor="end" font-size="31.4">0.02</text>
<text x="189" y="198.5" text-anchor="end" font-size="31.4">0.03</text>
<text x="189" y="100.9" text-anchor="end" font-size="31.4">0.04</text>
<text x="205.7" y="509.9" text-anchor="middle" font-size="31.4">0</text>
<text x="446.2" y="509.9" text-anchor="middle" font-size="31.4">0.5</text>
<text x="686.7" y="509.9" text-anchor="middle" font-size="31.4">1</text>
<text x="436.3" y="541.3" font-size="31.9"><tspan x="435.3" font-style="italic">q</tspan><tspan x="454.1">/</tspan><tspan x="465.5" font-style="italic">q</tspan><tspan x="481" y="550.87" font-size="24.56">EA</tspan></text>
<text transform="translate(114 411.3) rotate(-90)" x="0" y="0" font-size="31.9"><tspan x="0" y="0">Var</tspan><tspan x="53.5" y="0">(</tspan><tspan x="65.5" y="0" font-style="italic">Q</tspan><tspan x="90" y="9.57" font-size="24.56" textLength="40" lengthAdjust="spacingAndGlyphs">link</tspan><tspan x="142.5" y="0">|</tspan><tspan x="159.5" y="0" font-style="italic">q</tspan><tspan x="175.5" y="0">)</tspan><tspan x="198" y="0" font-style="italic">L</tspan><tspan x="219.4" y="-15.95" font-size="24.56">1.5</tspan></text>
<text x="233.97" y="342.6" font-size="31.6"><tspan x="234.5" font-style="italic">L</tspan><tspan x="269.4">=</tspan><tspan x="301.1">8</tspan></text>
<text x="233.97" y="374.4" font-size="31.6"><tspan x="234.5" font-style="italic">L</tspan><tspan x="269.4">=</tspan><tspan x="301.1">12</tspan></text>
<text x="233.97" y="406" font-size="31.6"><tspan x="234.5" font-style="italic">L</tspan><tspan x="269.4">=</tspan><tspan x="301.1">16</tspan></text>
<text x="233.97" y="437.4" font-size="31.6"><tspan x="234.5" font-style="italic">L</tspan><tspan x="269.4">=</tspan><tspan x="301.1">24</tspan></text>
<text x="233.97" y="468.9" font-size="31.6"><tspan x="234.5" font-style="italic">L</tspan><tspan x="269.4">=</tspan><tspan x="301.1">32</tspan></text>
</g>
</svg>
</body></html>
